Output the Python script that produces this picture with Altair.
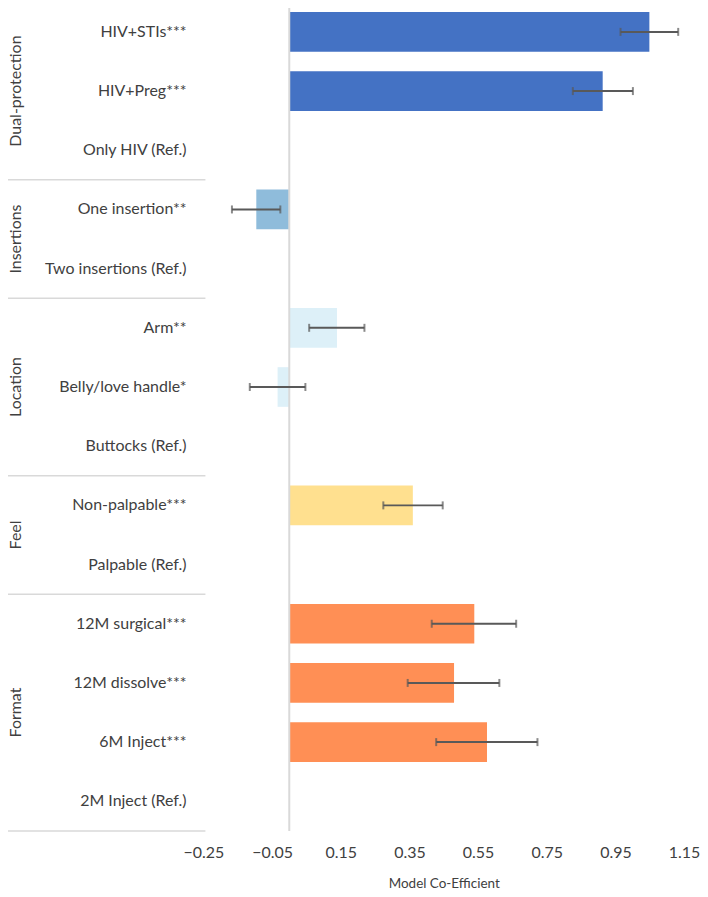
import altair as alt
import pandas as pd

GROUPS = ["Dual-protection", "Insertions", "Location", "Feel", "Format"]
GROUP_SIZES = [3, 2, 3, 2, 4]
GROUP_COLORS = ["#4472C4", "#8FBCDB", "#DDF0F8", "#FFE08F", "#FF8F55"]

LABELS = ["HIV+STIs***", "HIV+Preg***", "Only HIV (Ref.)",
          "One insertion**", "Two insertions (Ref.)",
          "Arm**", "Belly/love handle*", "Buttocks (Ref.)",
          "Non-palpable***", "Palpable (Ref.)",
          "12M surgical***", "12M dissolve***", "6M Inject***", "2M Inject (Ref.)"]
COEF = [1.049, 0.913, 0.0, -0.096, 0.0, 0.139, -0.034, 0.0, 0.360, 0.0,
        0.539, 0.480, 0.576, 0.0]
LOWER = [0.965, 0.826, None, -0.167, None, 0.058, -0.115, None, 0.274, None,
         0.415, 0.345, 0.428, None]
UPPER = [1.133, 1.001, None, -0.026, None, 0.219, 0.047, None, 0.447, None,
         0.661, 0.612, 0.723, None]
TICKS = [-0.25, -0.05, 0.15, 0.35, 0.55, 0.75, 0.95, 1.15]

# build tables
group_of_row = []
for g, n in zip(GROUPS, GROUP_SIZES):
    group_of_row += [g] * n
rows = list(range(len(LABELS)))
df = pd.DataFrame({"label": LABELS, "group": group_of_row, "coef": COEF,
                   "lo": LOWER, "hi": UPPER, "row": rows})
err = df.dropna(subset=["lo"])

starts = [0]
for n in GROUP_SIZES:
    starts.append(starts[-1] + n)
gdf = pd.DataFrame({"group": GROUPS, "start": starts[:-1], "size": GROUP_SIZES})
bdf = pd.DataFrame({"b": starts})
zdf = pd.DataFrame({"y0": [0], "y1": [starts[-1]]})

W, H = 482, 831
FONT = "Lato"
TXT = "#404040"
GRAY = "#D9D9D9"

xs = alt.Scale(domain=[TICKS[0], TICKS[-1]], nice=False, zero=False)
ys = alt.Scale(domain=[0, starts[-1]], reverse=True, nice=False, zero=False)

bars = alt.Chart(df).transform_calculate(
    y0="datum.row + 0.165", y1="datum.row + 0.835"
).mark_bar().encode(
    x=alt.X("coef:Q", scale=xs, axis=alt.Axis(
        values=TICKS, format=".2f", grid=False, domain=False, ticks=False,
        labelFlush=False, labelOverlap=False,
        labelFontSize=16, labelPadding=14, labelColor=TXT, labelFont=FONT,
        title="Model Co-Efficient", titleFontSize=13.5, titleColor=TXT,
        titleFont=FONT, titleFontWeight="normal", titlePadding=16)),
    x2=alt.datum(0),
    y=alt.Y("y0:Q", scale=ys, axis=None),
    y2="y1:Q",
    color=alt.Color("group:N", scale=alt.Scale(domain=GROUPS, range=GROUP_COLORS),
                    legend=None),
)

zero = alt.Chart(zdf).mark_rule(color=GRAY, strokeWidth=2).encode(
    x=alt.datum(0), y=alt.Y("y0:Q", scale=ys), y2="y1:Q")

err_base = alt.Chart(err).transform_calculate(yc="datum.row + 0.5")
err_line = err_base.mark_rule(color="#595959", strokeWidth=2).encode(
    x=alt.X("lo:Q", scale=xs), x2="hi:Q", y=alt.Y("yc:Q", scale=ys))
cap_lo = err_base.mark_tick(color="#595959", thickness=2, size=8, orient="vertical").encode(
    x=alt.X("lo:Q", scale=xs), y=alt.Y("yc:Q", scale=ys))
cap_hi = err_base.mark_tick(color="#595959", thickness=2, size=8, orient="vertical").encode(
    x=alt.X("hi:Q", scale=xs), y=alt.Y("yc:Q", scale=ys))

cat_text = alt.Chart(df).transform_calculate(yc="datum.row + 0.5").mark_text(
    align="right", baseline="middle", font=FONT, fontSize=16, color=TXT
).encode(x=alt.value(-17), y=alt.Y("yc:Q", scale=ys), text="label:N")

grp_text = alt.Chart(gdf).transform_calculate(ym="datum.start + datum.size / 2").mark_text(
    align="center", baseline="middle", angle=270, font=FONT, fontSize=16, color=TXT
).encode(x=alt.value(-188), y=alt.Y("ym:Q", scale=ys), text="group:N")

seps = alt.Chart(bdf).mark_rule(color=GRAY, strokeWidth=1.5).encode(
    x=alt.value(-203), x2=alt.value(2), y=alt.Y("b:Q", scale=ys))

chart = alt.layer(bars, zero, err_line, cap_lo, cap_hi, cat_text, grp_text, seps).properties(
    width=W, height=H,
    padding={"left": -8, "top": -8, "right": 0, "bottom": 0},
).configure_view(stroke=None)

chart.save("out.html", embed_options={"renderer": "svg", "actions": False})
